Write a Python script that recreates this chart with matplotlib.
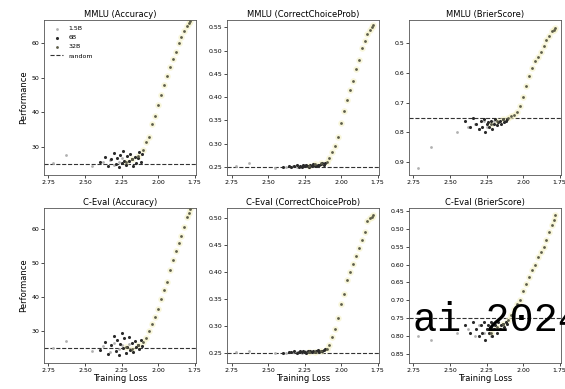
import matplotlib
matplotlib.use("Agg")
from matplotlib import pyplot as plt

# training loss of the checkpoints (shared by all panels)
loss_15b = [2.72, 2.63, 2.45, 2.38, 2.33, 2.30, 2.27, 2.25, 2.22, 2.20]
loss_6b = [2.40, 2.36, 2.34, 2.32, 2.30, 2.29, 2.28, 2.27, 2.26, 2.25, 2.24, 2.23, 2.22,
           2.21, 2.20, 2.19, 2.18, 2.17, 2.16, 2.15, 2.14, 2.13, 2.12, 2.11]
loss_32b = [2.22, 2.18, 2.14, 2.10, 2.08, 2.06, 2.04, 2.02, 2.00, 1.98, 1.96, 1.94,
            1.92, 1.90, 1.88, 1.86, 1.84, 1.82, 1.80, 1.79, 1.78]

# MMLU
mmlu_acc_15b = [25.5, 27.7, 24.5, 25.8, 26.2, 24.9, 25.6, 26.8, 25.1, 26.0]
mmlu_acc_6b = [25.8, 27.2, 24.6, 26.5, 28.4, 25.1, 26.9, 24.2, 27.8, 25.5, 28.9, 26.1,
               24.8, 27.4, 25.9, 28.1, 26.6, 24.5, 27.0, 25.3, 26.8, 28.6, 25.7, 27.9]
mmlu_acc_32b = [25.6, 26.4, 27.5, 29.0, 31.5, 33.0, 36.5, 39.0, 42.0, 45.0, 47.8, 50.5,
                53.0, 55.5, 57.5, 60.0, 61.8, 63.5, 65.0, 65.8, 66.3]

mmlu_ccp_15b = [0.252, 0.258, 0.249, 0.251, 0.253, 0.250, 0.252, 0.254, 0.251, 0.253]
mmlu_ccp_6b = [0.251, 0.253, 0.250, 0.252, 0.254, 0.251, 0.253, 0.250, 0.255, 0.252, 0.254, 0.253,
               0.251, 0.255, 0.252, 0.256, 0.253, 0.252, 0.255, 0.254, 0.256, 0.258, 0.255, 0.259]
mmlu_ccp_32b = [0.253, 0.256, 0.258, 0.262, 0.270, 0.282, 0.295, 0.315, 0.345, 0.370, 0.395, 0.415,
                0.435, 0.460, 0.480, 0.505, 0.520, 0.535, 0.545, 0.550, 0.555]

mmlu_brier_15b = [0.92, 0.85, 0.80, 0.78, 0.77, 0.79, 0.76, 0.78, 0.77, 0.76]
mmlu_brier_6b = [0.76, 0.78, 0.75, 0.77, 0.79, 0.76, 0.78, 0.755, 0.80, 0.77, 0.765, 0.78,
                 0.76, 0.79, 0.77, 0.755, 0.775, 0.765, 0.76, 0.77, 0.755, 0.765, 0.76, 0.755]
mmlu_brier_32b = [0.77, 0.76, 0.755, 0.75, 0.745, 0.74, 0.73, 0.71, 0.68, 0.645, 0.61, 0.585,
                  0.56, 0.545, 0.53, 0.51, 0.49, 0.475, 0.46, 0.455, 0.45]

# C-Eval
ceval_acc_15b = [25.0, 27.0, 24.0, 25.5, 23.8, 26.5, 24.8, 25.9, 23.5, 26.2]
ceval_acc_6b = [24.5, 26.8, 23.2, 25.9, 28.6, 24.1, 27.3, 22.8, 26.2, 29.5, 24.9, 27.8,
                23.6, 25.4, 28.1, 24.4, 26.6, 23.9, 27.1, 25.2, 26.0, 24.7, 27.5, 25.6]
ceval_acc_32b = [25.2, 24.8, 26.0, 26.8, 28.0, 30.0, 32.0, 34.0, 36.5, 39.5, 42.0, 44.5,
                 48.0, 51.0, 53.5, 56.0, 58.0, 60.5, 63.5, 64.8, 65.8]

ceval_ccp_15b = [0.251, 0.253, 0.249, 0.250, 0.252, 0.251, 0.250, 0.253, 0.251, 0.252]
ceval_ccp_6b = [0.250, 0.252, 0.251, 0.253, 0.250, 0.252, 0.254, 0.251, 0.253, 0.252, 0.250, 0.254,
                0.252, 0.253, 0.251, 0.254, 0.252, 0.253, 0.255, 0.252, 0.254, 0.253, 0.255, 0.256]
ceval_ccp_32b = [0.251, 0.252, 0.254, 0.256, 0.265, 0.280, 0.295, 0.315, 0.340, 0.360, 0.385, 0.400,
                 0.415, 0.430, 0.445, 0.460, 0.475, 0.495, 0.500, 0.503, 0.506]

ceval_brier_15b = [0.80, 0.81, 0.79, 0.78, 0.80, 0.77, 0.79, 0.78, 0.80, 0.77]
ceval_brier_6b = [0.77, 0.79, 0.76, 0.78, 0.80, 0.77, 0.79, 0.76, 0.81, 0.78, 0.77, 0.79,
                  0.76, 0.80, 0.78, 0.77, 0.79, 0.76, 0.78, 0.77, 0.765, 0.775, 0.76, 0.765]
ceval_brier_32b = [0.79, 0.775, 0.765, 0.755, 0.74, 0.725, 0.71, 0.70, 0.675, 0.655, 0.635, 0.615,
                   0.60, 0.58, 0.565, 0.55, 0.53, 0.51, 0.49, 0.475, 0.46]

titles = ["MMLU (Accuracy)", "MMLU (CorrectChoiceProb)", "MMLU (BrierScore)",
          "C-Eval (Accuracy)", "C-Eval (CorrectChoiceProb)", "C-Eval (BrierScore)"]
perf = [
    (mmlu_acc_15b, mmlu_acc_6b, mmlu_acc_32b),
    (mmlu_ccp_15b, mmlu_ccp_6b, mmlu_ccp_32b),
    (mmlu_brier_15b, mmlu_brier_6b, mmlu_brier_32b),
    (ceval_acc_15b, ceval_acc_6b, ceval_acc_32b),
    (ceval_ccp_15b, ceval_ccp_6b, ceval_ccp_32b),
    (ceval_brier_15b, ceval_brier_6b, ceval_brier_32b),
]
random_level = [25, 0.25, 0.75, 25, 0.25, 0.75]
yticks = [
    [30, 40, 50, 60],
    [0.25, 0.30, 0.35, 0.40, 0.45, 0.50, 0.55],
    [0.5, 0.6, 0.7, 0.8, 0.9],
    [30, 40, 50, 60],
    [0.25, 0.30, 0.35, 0.40, 0.45, 0.50],
    [0.45, 0.50, 0.55, 0.60, 0.65, 0.70, 0.75, 0.80, 0.85],
]
ylims = [(21.9, 66.6), (0.233, 0.565), (0.943, 0.423),
         (20.6, 66.2), (0.231, 0.519), (0.875, 0.442)]
xticks = [2.75, 2.50, 2.25, 2.00, 1.75]

fig = plt.figure(figsize=(5.65, 3.89), dpi=100)
lefts = [0.078, 0.402, 0.724]
bottoms = [0.55, 0.067]
w, h = 0.269, 0.398

for i in range(6):
    r, c = divmod(i, 3)
    ax = fig.add_axes([lefts[c], bottoms[r], w, h])
    p15, p6, p32 = perf[i]
    ax.scatter(loss_32b, p32, s=22, color='#f4f1c4', alpha=0.6, linewidths=0, zorder=1)
    ax.scatter(loss_15b, p15, s=4, color='#b0b0b0', linewidths=0, label='1.5B', zorder=2)
    ax.scatter(loss_6b, p6, s=5, color='#2a2a2a', linewidths=0, label='6B', zorder=3)
    ax.scatter(loss_32b, p32, s=4, color='#5c5c48', linewidths=0, label='32B', zorder=4)
    ax.axhline(random_level[i], color='#333333', lw=0.8, ls='--', label='random', zorder=0)
    ax.set_xlim(2.78, 1.74)
    ax.set_xticks(xticks)
    ax.set_xticklabels(["%.2f" % t for t in xticks])
    ax.set_yticks(yticks[i])
    ax.set_ylim(*ylims[i])
    ax.tick_params(labelsize=4.5, length=2, width=0.5, pad=1.5)
    for s in ax.spines.values():
        s.set_linewidth(0.6)
        s.set_color('#555555')
    ax.set_title(titles[i], fontsize=6, pad=2)
    if c == 0:
        ax.set_ylabel("Performance", fontsize=6, labelpad=2)
    if r == 1:
        ax.set_xlabel("Training Loss", fontsize=6, labelpad=1)
    if i == 0:
        ax.legend(loc='upper left', fontsize=4.5, frameon=False, markerscale=1.0,
                  handlelength=2.2, labelspacing=0.6)

fig.text(0.731, 0.148, "ai 2024", family="Liberation Mono", fontsize=29, color='black')

fig.savefig("out.png", dpi=100)
